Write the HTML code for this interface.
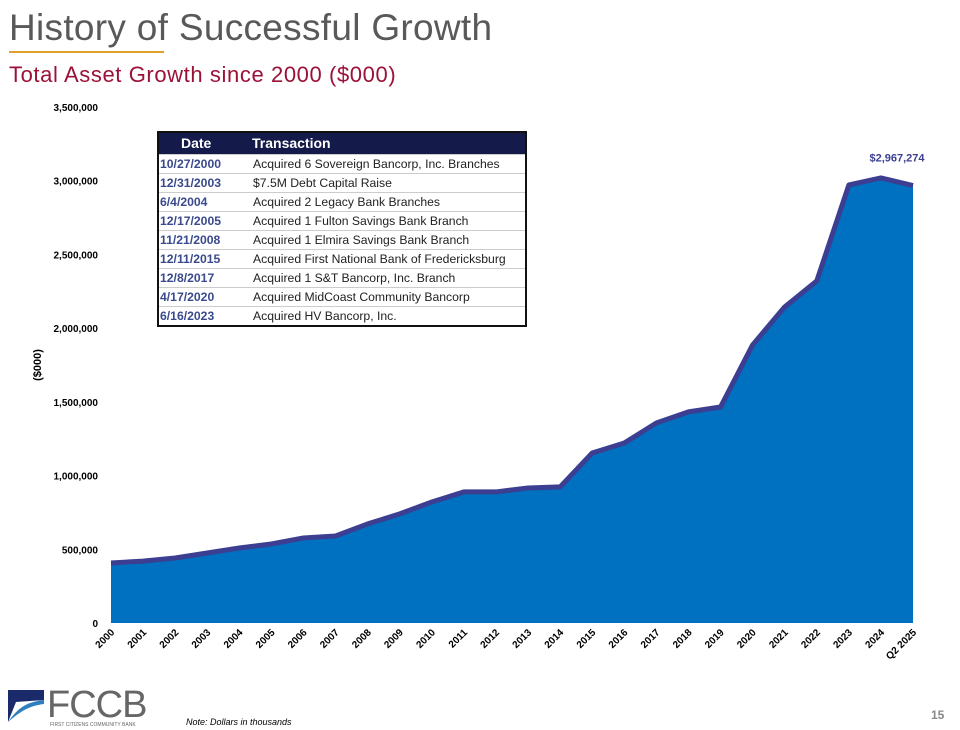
<!DOCTYPE html>
<html><head><meta charset="utf-8"><style>
body{margin:0;background:#fff;font-family:"Liberation Sans",sans-serif}
#wrap{position:relative;width:960px;height:730px;overflow:hidden}
.abs{position:absolute}
table{border-collapse:collapse}
</style></head><body>
<div id="wrap">
<div class="abs" style="left:9px;top:7px;font-size:37px;color:#595959;letter-spacing:0.3px">History of Successful Growth</div>
<div class="abs" style="left:9px;top:51px;width:155px;height:2px;background:#e0a030"></div>
<div class="abs" style="left:9px;top:62px;font-size:22px;color:#9b1137;letter-spacing:0.6px">Total Asset Growth since 2000 ($000)</div>
<svg class="abs" style="left:0;top:0" width="960" height="730" id="chart"></svg>
<div class="abs" style="left:157px;top:131px;width:366px;border:2px solid #111;background:#fff">
<table style="width:100%;font-size:12.2px">
<tr style="background:#141a4a;color:#fff;font-weight:bold;font-size:14px;height:21px"><td style="padding-left:22px;width:70px">Date</td><td style="padding-left:0">Transaction</td></tr>
<tbody id="tb"></tbody></table></div>
<div class="abs" style="left:6px;top:688px">
<svg width="40" height="36"><polygon points="2,2 38,2 38,12 10,14 2,34" fill="#1a2a6a"/><path d="M2,34 C12,20 20,14 38,12 L38,16 C22,18 14,24 2,34Z" fill="#2d7fc0"/></svg>
<span style="position:absolute;left:41px;top:-4px;font-size:38px;color:#666;letter-spacing:-1px">FCCB</span>
<span style="position:absolute;left:44px;top:34px;font-size:5px;color:#666;white-space:nowrap">FIRST CITIZENS COMMUNITY BANK</span></div>
<div class="abs" style="left:186px;top:717px;font-size:9px;font-style:italic">Note: Dollars in thousands</div>
<div class="abs" style="left:931px;top:708px;font-size:12px;color:#888;font-weight:bold">15</div>
</div>
<script>
const dates=["10/27/2000","12/31/2003","6/4/2004","12/17/2005","11/21/2008","12/11/2015","12/8/2017","4/17/2020","6/16/2023"];
const trans=["Acquired 6 Sovereign Bancorp, Inc. Branches","$7.5M Debt Capital Raise","Acquired 2 Legacy Bank Branches","Acquired 1 Fulton Savings Bank Branch","Acquired 1 Elmira Savings Bank Branch","Acquired First National Bank of Fredericksburg","Acquired 1 S&T Bancorp, Inc. Branch","Acquired MidCoast Community Bancorp","Acquired HV Bancorp, Inc."];
const categories=["2000","2001","2002","2003","2004","2005","2006","2007","2008","2009","2010","2011","2012","2013","2014","2015","2016","2017","2018","2019","2020","2021","2022","2023","2024","Q2 2025"];
const assets=[407000,420000,441000,475000,509000,536000,577000,590000,672000,740000,821000,889000,889000,916000,923000,1153000,1221000,1357000,1432000,1465000,1886000,2144000,2320000,2971000,3019000,2967274];
const yTicks=[0,500000,1000000,1500000,2000000,2500000,3000000,3500000];
const yTickLabels=["0","500,000","1,000,000","1,500,000","2,000,000","2,500,000","3,000,000","3,500,000"];
const tb=document.getElementById('tb');
dates.forEach((d,i)=>{const tr=document.createElement('tr');


tr.style.height='19px';tr.style.borderTop='1px solid #ccc';
tr.innerHTML='<td style="color:#3a4a8c;font-weight:bold;padding-left:1px">'+d+'</td><td style="color:#222">'+trans[i]+'</td>';tb.appendChild(tr);});
const NS="http://www.w3.org/2000/svg",svg=document.getElementById('chart');
const x0=111,x1=913,y0=623,yTop=107,vMax=3500000;
const X=i=>x0+i*(x1-x0)/(categories.length-1);
const Y=v=>y0-(v/vMax)*(y0-yTop);
function mk(t,a){const e=document.createElementNS(NS,t);for(const k in a)e.setAttribute(k,a[k]);svg.appendChild(e);return e;}
let pts=assets.map((v,i)=>X(i)+','+Y(v)).join(' ');
let area=mk('polygon',{points:X(0)+','+y0+' '+pts+' '+X(assets.length-1)+','+y0,fill:'#0070c0'});


let line=mk('polyline',{points:pts,fill:'none',stroke:'#3b3e91','stroke-width':5,'stroke-linejoin':'round'});


yTicks.forEach((v,i)=>{const t=mk('text',{x:98,y:Y(v)+4,'text-anchor':'end','font-size':10,'font-weight':'bold','font-family':'Liberation Sans'});t.textContent=yTickLabels[i];

});
categories.forEach((c,i)=>{const t=mk('text',{x:X(i)+4,y:633,'text-anchor':'end','font-size':10,'font-weight':'bold','font-family':'Liberation Sans',transform:'rotate(-45 '+(X(i)+4)+' 633)'});t.textContent=c;

});
const yt=mk('text',{x:0,y:0,'text-anchor':'middle','font-size':11,'font-weight':'bold','font-family':'Liberation Sans',transform:'translate(41 365) rotate(-90)'});yt.textContent='($000)';


const last=assets.length-1;
const lbl=mk('text',{x:X(last)-16,y:Y(assets[last])-24,'text-anchor':'middle','font-size':11,'font-weight':'bold',fill:'#3b3e91','font-family':'Liberation Sans'});
lbl.textContent='$'+assets[last].toLocaleString('en-US');


</script>
</body></html>
